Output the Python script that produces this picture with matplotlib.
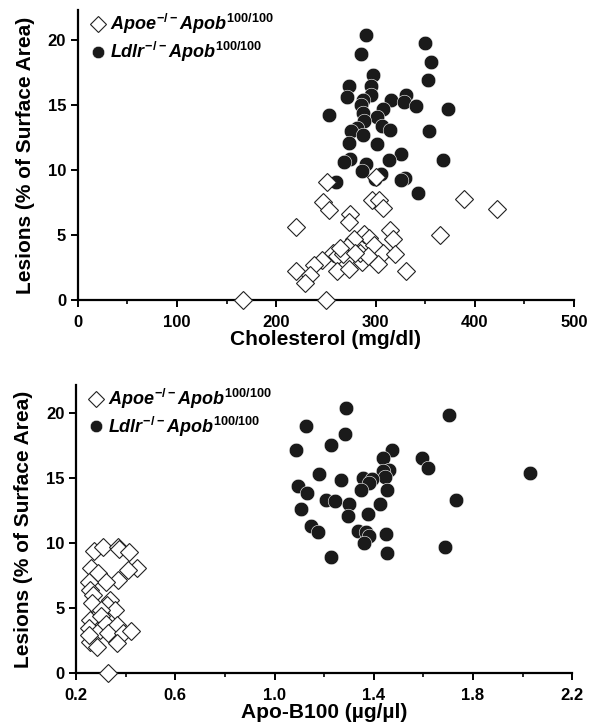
import numpy as np
import matplotlib
matplotlib.use("Agg")
import matplotlib.pyplot as plt

# -----------------------------
# DATA
# -----------------------------
# Top panel: cholesterol (mg/dl) vs lesions (%)
apoe_chol = [166.7, 250, 250.7, 300.4, 247, 253.4, 296, 303.4, 307, 389.4,
             422, 274, 273.5, 219.4, 365, 314.5, 317.2, 288.6, 293.7, 278.6,
             298.7, 307, 319.6, 270.8, 256.8, 260.8, 245.6, 238.2, 219.8, 233.9,
             228.8, 260.8, 273.5, 286, 302.7, 330.6, 284.3, 292.6, 267.4, 264, 279]
apoe_chol_les = [0, 0, 9.1, 9.5, 7.55, 6.9, 7.7, 7.7, 7.1, 7.75,
                 7.0, 6.6, 6.0, 5.6, 5.0, 5.4, 4.7, 5.1, 4.75, 4.7,
                 4.2, 3.6, 3.5, 4.1, 3.65, 3.35, 3.1, 2.7, 2.2, 1.9,
                 1.3, 2.2, 2.35, 2.95, 2.75, 2.2, 3.6, 3.35, 3.5, 4.0, 3.6]

ldlr_chol = [290, 285, 350, 355.5, 352.5, 297.7, 295, 273.5, 270.8, 295,
             287.6, 285, 316, 330.6, 328.6, 340.7, 372.7, 252.7, 307, 287.6,
             301, 288.6, 306, 314.5, 281, 274.9, 287, 354, 273.5, 301,
             325.6, 313.8, 367.6, 274.2, 268, 290.3, 286, 305.4, 299, 330,
             326, 260, 343]
ldlr_chol_les = [20.4, 18.9, 19.8, 18.3, 16.9, 17.3, 16.5, 16.5, 15.6, 15.8,
                 15.4, 15.0, 15.4, 15.8, 15.2, 14.9, 14.7, 14.2, 14.7, 14.4,
                 14.05, 13.8, 13.4, 13.1, 13.2, 13.0, 12.7, 13.0, 12.05, 12.0,
                 11.2, 10.8, 10.8, 10.85, 10.6, 10.5, 9.95, 9.7, 9.3, 9.35,
                 9.2, 9.1, 8.25]

# Bottom panel: apo-B100 (ug/ul) vs lesions (%)
apoe_apob = [0.33, 0.274, 0.31, 0.37, 0.374, 0.415, 0.26, 0.29, 0.445, 0.41,
             0.37, 0.32, 0.25, 0.257, 0.27, 0.263, 0.337, 0.325, 0.357, 0.30,
             0.256, 0.30, 0.25, 0.297, 0.32, 0.364, 0.33, 0.39, 0.42, 0.256,
             0.283, 0.364, 0.25]
apoe_apob_les = [0, 9.4, 9.65, 9.7, 9.5, 9.3, 8.05, 7.7, 8.05, 7.9,
                 7.15, 7.0, 7.0, 6.4, 6.0, 5.35, 5.6, 5.2, 4.85, 4.85,
                 4.1, 4.35, 3.45, 3.3, 3.8, 3.7, 3.05, 3.05, 3.2, 2.4,
                 2.0, 2.3, 2.9]

ldlr_apob = [1.289, 1.705, 1.127, 1.283, 1.227, 1.086, 1.473, 1.437, 1.594, 1.62,
             2.028, 1.181, 1.463, 1.436, 1.446, 1.358, 1.392, 1.38, 1.267, 1.096,
             1.13, 1.348, 1.453, 1.208, 1.244, 1.731, 1.3, 1.423, 1.106, 1.296,
             1.378, 1.148, 1.177, 1.338, 1.37, 1.379, 1.361, 1.45, 1.688, 1.227,
             1.453]
ldlr_apob_les = [20.4, 19.8, 19.0, 18.4, 17.5, 17.1, 17.1, 16.5, 16.5, 15.75,
                 15.4, 15.3, 15.6, 15.5, 15.1, 15.0, 14.9, 14.6, 14.85, 14.4,
                 13.8, 14.05, 14.05, 13.3, 13.2, 13.3, 13.0, 13.0, 12.6, 12.1,
                 12.2, 11.3, 10.8, 10.9, 10.85, 10.5, 10.0, 10.7, 9.65, 8.9,
                 9.2]

# -----------------------------
# STYLE
# -----------------------------
plt.rcParams['font.family'] = ['Liberation Sans', 'DejaVu Sans']
plt.rcParams['font.weight'] = 'bold'
plt.rcParams['mathtext.fontset'] = 'custom'
plt.rcParams['mathtext.rm'] = 'Liberation Sans:bold'
plt.rcParams['mathtext.bf'] = 'Liberation Sans:bold'
plt.rcParams['mathtext.it'] = 'Liberation Sans:italic:bold'

APOE_LABEL = r"$\mathit{Apoe}^{\mathit{-/-}}\mathit{Apob}^{\mathrm{100/100}}$"
LDLR_LABEL = r"$\mathit{Ldlr}^{\mathit{-/-}}\mathit{Apob}^{\mathrm{100/100}}$"

fig = plt.figure(figsize=(5.9, 7.28), dpi=100)
ax1 = fig.add_axes([0.132, 0.588, 0.841, 0.398])
ax2 = fig.add_axes([0.129, 0.0755, 0.841, 0.396])


def style_axes(ax):
    for s in ["top", "right"]:
        ax.spines[s].set_visible(False)
    for s in ["left", "bottom"]:
        ax.spines[s].set_linewidth(1.6)
    ax.tick_params(which="major", direction="out", length=5, width=1.4,
                   labelsize=12)
    ax.tick_params(axis="x", which="major", pad=6)
    ax.tick_params(which="minor", direction="out", length=3, width=1.2)
    ax.set_yticks([0, 5, 10, 15, 20])
    ax.set_ylabel("Lesions (% of Surface Area)", fontsize=15,
                  fontweight="bold", labelpad=9)


def draw(ax, xa, ya, xl, yl):
    ax.plot(xa, ya, linestyle="none", marker="D", markersize=9.6,
            markerfacecolor="white", markeredgecolor="#222222",
            markeredgewidth=0.8, clip_on=False, zorder=3, label=APOE_LABEL)
    ax.plot(xl, yl, linestyle="none", marker="o", markersize=10.5,
            markerfacecolor="#1a1a1a", markeredgecolor="white",
            markeredgewidth=0.4, clip_on=False, zorder=2, label=LDLR_LABEL)
    leg = ax.legend(loc="upper left", bbox_to_anchor=(-0.005, 1.03), frameon=False,
                    fontsize=13, handletextpad=0.0, labelspacing=0.2,
                    borderaxespad=0.2, handlelength=1.3, markerscale=0.85)
    return leg


# -----------------------------
# TOP PANEL
# -----------------------------
draw(ax1, apoe_chol, apoe_chol_les, ldlr_chol, ldlr_chol_les)
style_axes(ax1)
ax1.set_xlim(0, 500)
ax1.set_ylim(0, 22.3)
ax1.set_xticks([0, 100, 200, 300, 400, 500])
ax1.set_xticks([50, 150, 250, 350, 450], minor=True)
ax1.set_xlabel("Cholesterol (mg/dl)", fontsize=15, fontweight="bold", labelpad=0)

# -----------------------------
# BOTTOM PANEL
# -----------------------------
draw(ax2, apoe_apob, apoe_apob_les, ldlr_apob, ldlr_apob_les)
style_axes(ax2)
ax2.set_xlim(0.2, 2.2)
ax2.set_ylim(0, 22.15)
ax2.set_xticks([0.2, 0.6, 1.0, 1.4, 1.8, 2.2])
ax2.set_xticklabels(["0.2", "0.6", "1.0", "1.4", "1.8", "2.2"])
ax2.set_xticks([0.4, 0.8, 1.2, 1.6, 2.0], minor=True)
ax2.set_xlabel("Apo-B100 (\u00b5g/\u00b5l)", fontsize=15, fontweight="bold", labelpad=0)

fig.savefig("out.png", dpi=100)
